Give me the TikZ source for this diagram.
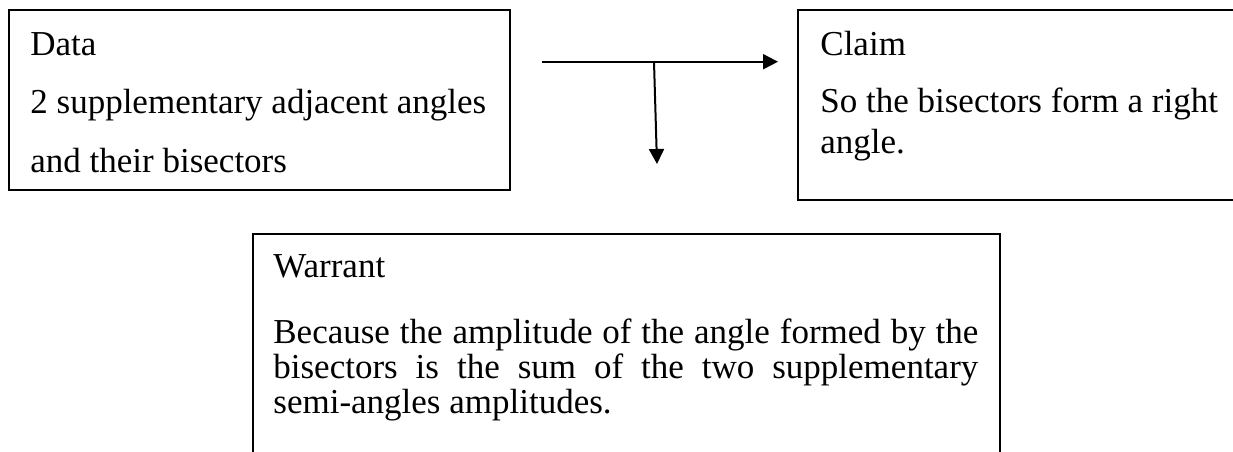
\documentclass[tikz,border=0pt]{standalone}
\usepackage{fontspec}
\setmainfont{Liberation Serif}
\usetikzlibrary{arrows.meta}
\newcommand\boxfont{\fontsize{17.5}{17.5}\selectfont\lineskiplimit=-100pt\relax\hyphenpenalty=10000\relax}
\begin{document}
\begin{tikzpicture}[x=0.5pt,y=-0.5pt,
  box/.style={draw, line width=1pt, inner sep=0pt},
  txt/.style={anchor=base west, inner sep=0pt, font=\boxfont},
  arr/.style={line width=1pt, -{Triangle[length=7.5pt,width=7.5pt]}}]
\useasboundingbox (0,0) rectangle (1233,451);
% boxes
\node[box, minimum width=250.5pt, minimum height=90pt] (data) at (259.5,100) {};
\node[box, minimum width=221pt, minimum height=95pt] (claim) at (1019,105) {};
\node[box, minimum width=373.5pt, minimum height=113pt] (warrant) at (626.5,347) {};
% texts
\node[txt] (dt1) at (30,55) {Data};
\node[txt] (dt2) at (30,113) {2 supplementary adjacent angles};
\node[txt] (dt3) at (30,172) {and their bisectors};
\node[txt] (ct1) at (820,55) {Claim};
\node[txt] (ct2) at (820,112) {So the bisectors form a right};
\node[txt] (ct3) at (820,153) {angle.};
\node[txt] (wt1) at (273,277) {Warrant};
\node[txt, text width=352.5pt, align=justify] (wt2) at (273,343)
  {Because the amplitude of the angle formed by the\linebreak bisectors is the sum of the two supplementary\linebreak semi-angles amplitudes.};
% arrows
\coordinate (hs) at (542,61.7);
\coordinate (he) at (778,61.7);
\coordinate (vs) at (654,61.7);
\coordinate (ve) at (657,164);
\draw[arr] (hs) -- (he);
\draw[arr] (vs) -- (ve);
\end{tikzpicture}
\end{document}
